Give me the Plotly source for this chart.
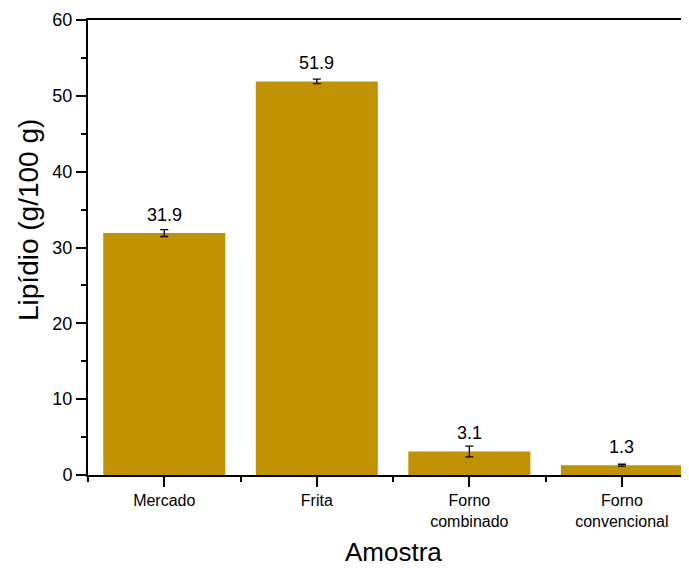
import plotly.graph_objects as go

categories = ["Mercado", "Frita", "Forno<br>combinado", "Forno<br>convencional"]
values = [31.9, 51.9, 3.1, 1.3]
errors = [0.45, 0.3, 0.72, 0.12]
labels = ["31.9", "51.9", "3.1", "1.3"]
y_ticks = [0, 10, 20, 30, 40, 50, 60]

x_pos = list(range(len(categories)))
bar_color = "#C09100"
font_family = "Liberation Sans, Arial, sans-serif"

# page body has an 8px margin; figure is sized to fill the rest of the window
OFF = 8
W, H = 689 - OFF, 568 - OFF
ML, MR, MT = 88 - OFF, 0, 20 - OFF
PW = W - ML - MR
PH = 455
MB = H - MT - PH

def px_x(sx):
    return (sx - OFF - ML) / PW

def px_y(sy):
    return (MT + PH - (sy - OFF)) / PH

fig = go.Figure()
fig.add_trace(go.Bar(
    x=x_pos, y=values, width=0.8,
    marker=dict(color=bar_color, line=dict(width=0)),
    error_y=dict(type="data", array=errors, color="#000000", thickness=1.3, width=4),
))

for xi, v, lab in zip(x_pos, values, labels):
    fig.add_annotation(x=xi, y=v, text=lab, showarrow=False, yanchor="bottom",
                       yshift=6, font=dict(family=font_family, size=18, color="#000"))

fig.add_annotation(xref="paper", yref="paper", x=px_x(28), y=px_y(220),
                   text="Lipídio (g/100 g)", textangle=-90, showarrow=False,
                   xanchor="center", yanchor="middle",
                   font=dict(family=font_family, size=28, color="#000"))
fig.add_annotation(xref="paper", yref="paper", x=px_x(393), y=px_y(552),
                   text="Amostra", showarrow=False, xanchor="center", yanchor="middle",
                   font=dict(family=font_family, size=26, color="#000"))

fig.update_layout(
    width=W, height=H,
    margin=dict(l=ML, r=MR, t=MT, b=MB, autoexpand=False),
    paper_bgcolor="white", plot_bgcolor="white",
    showlegend=False,
    font=dict(family=font_family, size=16, color="#000"),
)
fig.update_xaxes(
    range=[-0.5, 3.44], automargin=False,
    tickmode="array", tickvals=x_pos, ticktext=categories,
    ticks="outside", ticklen=10, tickwidth=1.5, tickcolor="#000",
    minor=dict(tickmode="linear", tick0=0.5, dtick=1, ticks="outside", ticklen=5, tickwidth=1.5, tickcolor="#000"),
    showline=True, linewidth=2, linecolor="#000", mirror=True,
    showgrid=False, zeroline=False,
    tickfont=dict(size=16),
)
fig.update_yaxes(
    range=[0, 60], automargin=False,
    tickmode="array", tickvals=y_ticks,
    ticks="outside", ticklen=10, tickwidth=1.5, tickcolor="#000",
    minor=dict(tickmode="linear", tick0=5, dtick=10, ticks="outside", ticklen=5, tickwidth=1.5, tickcolor="#000"),
    showline=True, linewidth=2, linecolor="#000",
    showgrid=False, zeroline=False,
    tickfont=dict(size=18),
)

fig.write_html("out.html")
